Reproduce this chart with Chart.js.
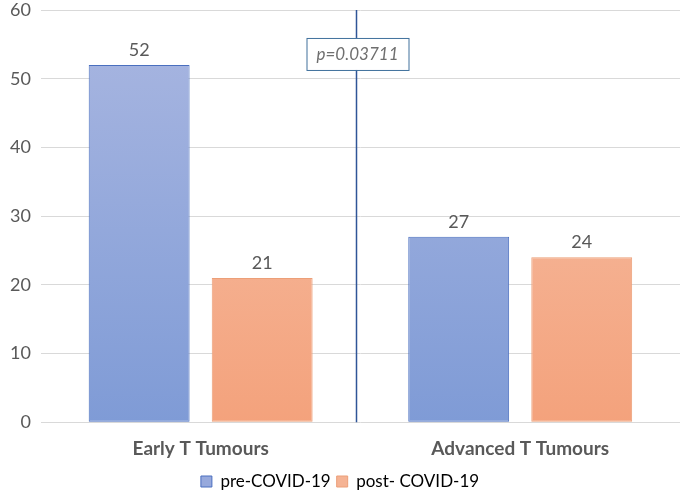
<!DOCTYPE html>
<html>
<head>
<meta charset="utf-8">
<script src="https://cdn.jsdelivr.net/npm/chart.js@4/dist/chart.umd.min.js"></script>
<style>
  html, body { margin: 0; padding: 0; background: #fff; }
  #wrap { width: 685px; height: 500px; position: relative; }
</style>
</head>
<body>
<div id="wrap"><canvas id="chart"></canvas></div>
<script>
const categories = ['Early T Tumours', 'Advanced T Tumours'];
const seriesNames = ['pre-COVID-19', 'post- COVID-19'];
const preCovid = [52, 27];
const postCovid = [21, 24];
const yTicks = [0, 10, 20, 30, 40, 50, 60];
const pValueLabel = 'p=0.03711';

const FONT = 'Lato, "Open Sans", sans-serif';
const TEXT = '#595959';

function gradientFill(top, bottom) {
  return context => {
    const { ctx, chartArea } = context.chart;
    if (!chartArea) return bottom;
    const g = ctx.createLinearGradient(0, chartArea.top, 0, chartArea.bottom);
    g.addColorStop(0, top);
    g.addColorStop(1, bottom);
    return g;
  };
}

// value labels above bars
const valueLabels = {
  id: 'valueLabels',
  afterDatasetsDraw(chart) {
    const { ctx } = chart;
    ctx.save();
    ctx.font = `18px ${FONT}`;
    ctx.fillStyle = TEXT;
    ctx.textAlign = 'center';
    ctx.textBaseline = 'bottom';
    chart.data.datasets.forEach((ds, i) => {
      chart.getDatasetMeta(i).data.forEach((bar, j) => {
        ctx.fillText(ds.data[j], bar.x, bar.y - 6);
      });
    });
    ctx.restore();
  },
};

// vertical divider between groups and p-value box
const divider = {
  id: 'divider',
  afterDatasetsDraw(chart) {
    const { ctx, chartArea, scales } = chart;
    const x = Math.round(scales.x.getPixelForValue(0.5)) - 3.5;
    ctx.save();
    ctx.strokeStyle = '#2f5597';
    ctx.lineWidth = 1.5;
    ctx.beginPath();
    ctx.moveTo(x, chartArea.top);
    ctx.lineTo(x, chartArea.bottom);
    ctx.stroke();

    const boxW = 102, boxH = 32;
    const bx = x - 50, by = scales.y.getPixelForValue(53.6) - boxH / 2;
    ctx.fillStyle = '#fff';
    ctx.fillRect(bx, by, boxW, boxH);
    ctx.strokeStyle = '#41719c';
    ctx.lineWidth = 1;
    ctx.strokeRect(bx + 0.5, by + 0.5, boxW, boxH);
    ctx.font = `italic 17px ${FONT}`;
    ctx.fillStyle = '#6f6f6f';
    ctx.textAlign = 'center';
    ctx.textBaseline = 'middle';
    ctx.fillText(pValueLabel, bx + boxW / 2, by + boxH / 2 + 1);
    ctx.restore();
  },
};

new Chart(document.getElementById('chart'), {
  type: 'bar',
  data: {
    labels: categories,
    datasets: [
      {
        label: seriesNames[0],
        data: preCovid,
        backgroundColor: gradientFill('#aab7e1', '#7f9bd6'),
        borderColor: '#4a6fbf',
        borderWidth: 1,
        borderSkipped: false,
        barPercentage: 0.82,
        categoryPercentage: 0.77,
      },
      {
        label: seriesNames[1],
        data: postCovid,
        backgroundColor: gradientFill('#f6c4ad', '#f4a27c'),
        borderColor: '#ec9f78',
        borderWidth: 1,
        borderSkipped: false,
        barPercentage: 0.82,
        categoryPercentage: 0.77,
      },
    ],
  },
  options: {
    responsive: true,
    maintainAspectRatio: false,
    animation: false,
    layout: { autoPadding: false, padding: { top: 10, right: 5, left: 0, bottom: 0 } },
    plugins: {
      tooltip: { enabled: false },
      legend: {
        position: 'bottom',
        labels: {
          color: TEXT,
          boxWidth: 11,
          boxHeight: 11,
          padding: 6,
          font: { family: FONT, size: 17 },
          generateLabels: chart => chart.data.datasets.map((ds, i) => ({
            text: ds.label,
            fillStyle: i === 0 ? '#97a9dc' : '#f5b394',
            strokeStyle: ds.borderColor,
            lineWidth: 1,
            datasetIndex: i,
          })),
        },
      },
    },
    scales: {
      x: {
        grid: { display: false },
        border: { display: false },
        ticks: {
          color: TEXT,
          padding: 7,
          font: { family: FONT, size: 19, weight: 'bold' },
        },
      },
      y: {
        min: 0,
        max: 60,
        afterBuildTicks: axis => { axis.ticks = yTicks.map(v => ({ value: v })); },
        afterFit: axis => { axis.paddingTop = 0; axis.paddingBottom = 0; },
        grid: { color: '#d9d9d9', lineWidth: 1, drawTicks: false },
        border: { display: false },
        ticks: {
          color: TEXT,
          padding: 10,
          font: { family: FONT, size: 18 },
        },
      },
    },
  },
  plugins: [valueLabels, divider],
});
</script>
</body>
</html>
